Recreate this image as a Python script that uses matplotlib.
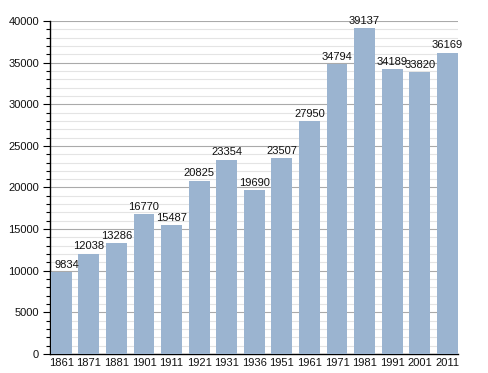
import matplotlib
matplotlib.use("Agg")
import matplotlib.pyplot as plt
from matplotlib.ticker import MultipleLocator

years = ["1861", "1871", "1881", "1901", "1911", "1921", "1931", "1936",
         "1951", "1961", "1971", "1981", "1991", "2001", "2011"]
population = [9834, 12038, 13286, 16770, 15487, 20825, 23354, 19690,
              23507, 27950, 34794, 39137, 34189, 33820, 36169]

plt.rcParams['font.family'] = ['Liberation Sans', 'DejaVu Sans']

fig = plt.figure(figsize=(4.88, 3.73), dpi=100)
ax = fig.add_axes([50/488, 19/373, 408/488, 333/373])

x = list(range(len(years)))
xmin, xmax = -0.41, 14.39
ax.bar(x, population, width=0.76, color='#9bb4d0', zorder=3)
for xi, v in zip(x, population):
    if xi == 0:
        # label kept inside the plot area, as in the reference
        ax.annotate(str(v), xy=(xmin, v + 300), xytext=(3, 0),
                    textcoords='offset points', ha='left', va='bottom',
                    fontsize=8, color='#111111', zorder=4)
    else:
        ax.text(xi, v + 300, str(v), ha='center', va='bottom', fontsize=8,
                color='#111111', zorder=4)

ax.set_xlim(xmin, xmax)
ax.set_ylim(0, 40000)
ax.set_xticks(x)
ax.set_xticklabels(years)
ax.yaxis.set_major_locator(MultipleLocator(5000))
ax.yaxis.set_minor_locator(MultipleLocator(1000))
ax.grid(axis='y', which='major', color='#aaaaaa', linewidth=0.8, zorder=1)
ax.grid(axis='y', which='minor', color='#e4e4e4', linewidth=0.8, zorder=1)
ax.tick_params(axis='x', length=0, labelsize=8, pad=3, labelcolor='#111111')
ax.tick_params(axis='y', which='major', length=5, width=0.8, labelsize=8, pad=3,
               labelcolor='#111111')
ax.tick_params(axis='y', which='minor', length=3, width=0.8)
for s in ['top', 'right']:
    ax.spines[s].set_visible(False)
ax.spines['left'].set_linewidth(1.0)
ax.spines['bottom'].set_linewidth(1.0)

fig.savefig("out.png", dpi=100)
